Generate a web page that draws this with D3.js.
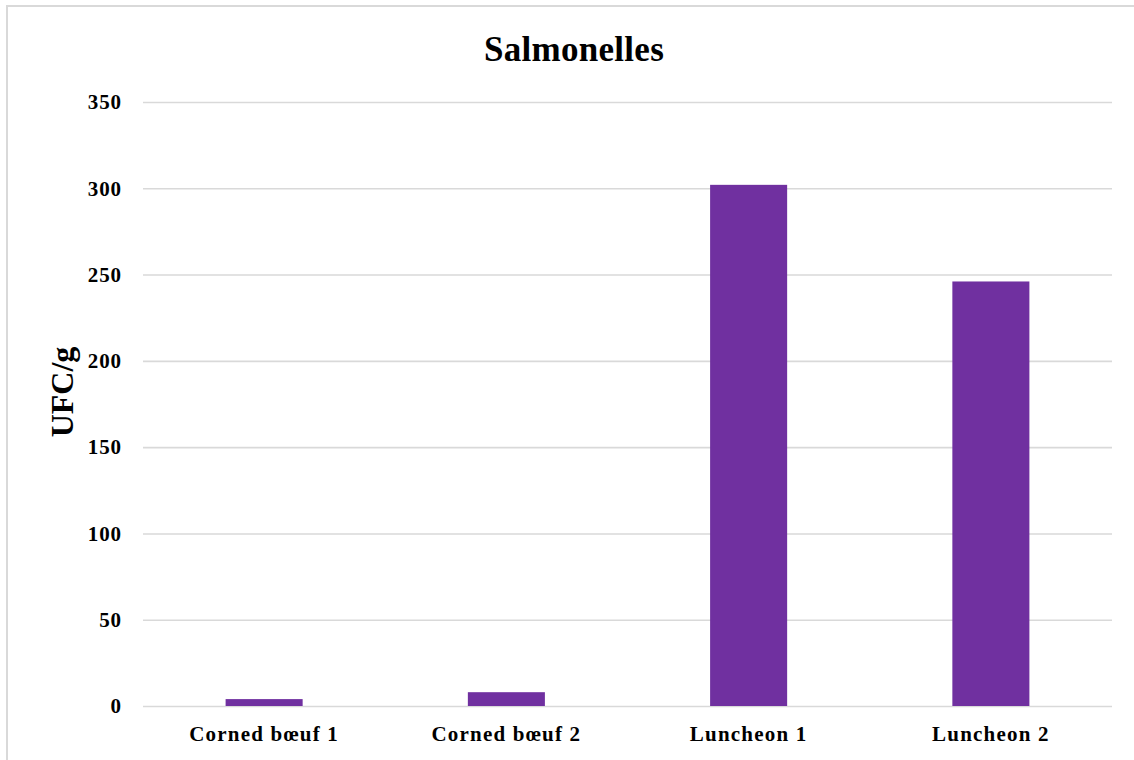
<!DOCTYPE html>
<html>
<head>
<meta charset="utf-8">
<script src="https://cdn.jsdelivr.net/npm/d3@7/dist/d3.min.js"></script>
<style>
  html, body { margin: 0; padding: 0; background: #fff; }
  svg { display: block; }
  text { font-family: "Liberation Serif", "Times New Roman", serif; font-weight: bold; fill: #000; }
</style>
</head>
<body>
<svg id="chart" width="1134" height="760"></svg>
<script>
// Salmonella counts per sample (UFC/g)
const categories = ["Corned bœuf 1", "Corned bœuf 2", "Luncheon 1", "Luncheon 2"];
const values = [4, 8, 302, 246];
const yTicks = [0, 50, 100, 150, 200, 250, 300, 350];
const title = "Salmonelles";
const yLabel = "UFC/g";

const svg = d3.select("#chart");

// chart frame
svg.append("rect")
  .attr("x", 7).attr("y", 6)
  .attr("width", 1140).attr("height", 800)
  .attr("fill", "#fff")
  .attr("stroke", "#d9d9d9")
  .attr("stroke-width", 2);

const plot = { left: 143, right: 1112, top: 102, bottom: 706 };

const x = d3.scaleBand()
  .domain(categories)
  .range([plot.left, plot.right])
  .paddingInner(0.682)
  .paddingOuter(0.341);

const y = d3.scaleLinear()
  .domain([0, 350])
  .range([plot.bottom, plot.top]);

// gridlines + y tick labels
const yAxis = d3.axisLeft(y)
  .tickValues(yTicks)
  .tickSize(-(plot.right - plot.left))
  .tickPadding(21)
  .tickFormat(d3.format("d"));

const gy = svg.append("g")
  .attr("transform", `translate(${plot.left},0)`)
  .call(yAxis);
gy.select(".domain").remove();
gy.selectAll(".tick line")
  .attr("stroke", "#d9d9d9")
  .attr("stroke-width", 1.6);
gy.selectAll(".tick text")
  .attr("font-size", 21)
  .attr("letter-spacing", 0.9)
  .attr("fill", "#000")
  .attr("font-family", "Liberation Serif, Times New Roman, serif")
  .attr("font-weight", "bold");

// bars
svg.append("g")
  .selectAll("rect")
  .data(values)
  .join("rect")
  .attr("x", (d, i) => x(categories[i]))
  .attr("width", x.bandwidth())
  .attr("y", d => y(d))
  .attr("height", d => y(0) - y(d))
  .attr("fill", "#7030A0");

// category labels
const xAxis = d3.axisBottom(x).tickSize(0).tickPadding(20);
const gx = svg.append("g")
  .attr("transform", `translate(0,${plot.bottom})`)
  .call(xAxis);
gx.select(".domain").remove();
gx.selectAll(".tick text")
  .attr("font-size", 21)
  .attr("letter-spacing", 1.2)
  .attr("fill", "#000")
  .attr("font-family", "Liberation Serif, Times New Roman, serif")
  .attr("font-weight", "bold");

// title
svg.append("text")
  .attr("x", 574)
  .attr("y", 61)
  .attr("text-anchor", "middle")
  .attr("font-size", 35)
  .attr("letter-spacing", 0.3)
  .text(title);

// y axis title
svg.append("text")
  .attr("transform", "translate(73,392) rotate(-90)")
  .attr("text-anchor", "middle")
  .attr("font-size", 32)
  .text(yLabel);
</script>
</body>
</html>
